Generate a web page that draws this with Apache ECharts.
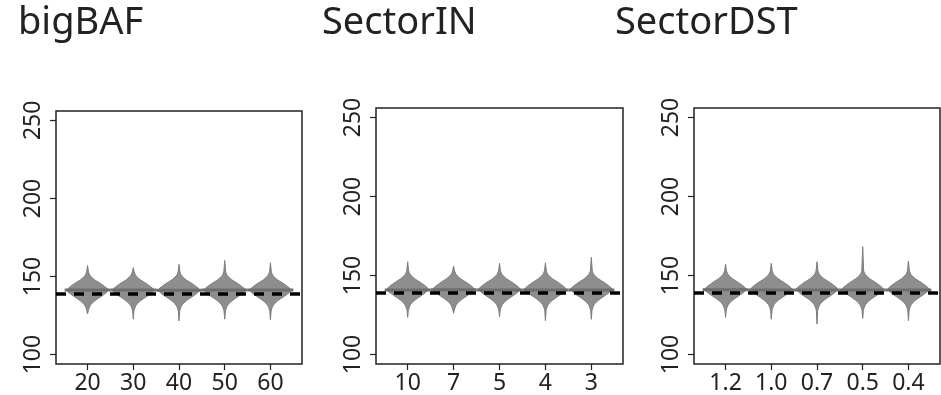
<!DOCTYPE html>
<html>
<head>
<meta charset="utf-8">
<script src="https://cdn.jsdelivr.net/npm/echarts@6/dist/echarts.min.js"></script>
<style>
  html, body { margin: 0; padding: 0; background: #fff; }
  #chart { width: 941px; height: 395px; }
</style>
</head>
<body>
<div id="chart"></div>
<script>
// panel titles and x tick labels
const panelTitles = ['bigBAF', 'SectorIN', 'SectorDST']
const tickLabels = [
  ['20', '30', '40', '50', '60'],
  ['10', '7', '5', '4', '3'],
  ['1.2', '1.0', '0.7', '0.5', '0.4']
]
const yTicks = [100, 150, 200, 250]

// violin tips (upper / lower end of each violin)
const topTips = [
  [157.0, 155.7, 157.8, 160.3, 158.8],
  [158.7, 156.0, 157.7, 158.1, 161.5],
  [157.1, 157.7, 158.7, 168.2, 159.2]
]
const bottomTips = [
  [126.0, 122.7, 121.6, 122.7, 122.3],
  [123.5, 126.1, 124.0, 121.4, 122.3],
  [123.5, 122.3, 119.3, 122.9, 121.4]
]
// gray solid line (mean of estimates) per violin
const meanValues = [
  [141.4, 141.4, 141.3, 141.4, 141.4],
  [140.9, 141.0, 140.9, 140.9, 140.9],
  [141.0, 140.9, 140.8, 140.8, 140.8]
]
// black dashed reference line
const trueValues = [139.3, 139.1, 139.1]

// shared violin body: level -> half width (x units)
const bodyLevels = [153, 151, 149.5, 148, 146.5, 145, 143.5, 142.3, 141.3, 140.3, 139, 137.5, 136, 134.5, 133, 131.5, 130, 128]
const bodyWidths = [0.02, 0.045, 0.09, 0.15, 0.23, 0.31, 0.38, 0.43, 0.45, 0.43, 0.38, 0.31, 0.23, 0.16, 0.1, 0.06, 0.035, 0.015]

// layout of the three plot boxes
const boxes = [
  { left: 56, top: 111, width: 246, height: 254 },
  { left: 376, top: 108, width: 247, height: 256 },
  { left: 694, top: 108, width: 246, height: 256 }
]
const titleLeft = [18, 322, 615]

const fontFamily = '"Noto Sans", "DejaVu Sans", sans-serif'

function renderViolin(params, api) {
  const c = api.value(0)
  const top = api.value(1)
  const bot = api.value(2)
  const right = [api.coord([c, top])]
  bodyLevels.forEach((lv, i) => {
    right.push(api.coord([c + bodyWidths[i], lv]))
  })
  right.push(api.coord([c, bot]))
  const left = []
  for (let i = bodyLevels.length - 1; i >= 0; i--) {
    left.push(api.coord([c - bodyWidths[i], bodyLevels[i]]))
  }
  return {
    type: 'polygon',
    shape: { points: right.concat(left) },
    style: { fill: '#8e8e8e', stroke: '#7d7d7d', lineWidth: 1 }
  }
}

function renderMean(params, api) {
  const c = api.value(0)
  const m = api.value(1)
  const p1 = api.coord([c - 0.5, m])
  const p2 = api.coord([c + 0.5, m])
  return {
    type: 'line',
    shape: { x1: p1[0], y1: p1[1], x2: p2[0], y2: p2[1] },
    style: { stroke: '#6e6e6e', lineWidth: 3 }
  }
}

const chart = echarts.init(document.getElementById('chart'), null, { renderer: 'canvas' })

const option = {
  animation: false,
  backgroundColor: '#fff',
  title: panelTitles.map((t, i) => ({
    text: t,
    left: titleLeft[i],
    top: 4,
    padding: 0,
    textStyle: { fontFamily, fontSize: 38, fontWeight: 'normal', color: '#222' }
  })),
  grid: boxes.map(b => ({
    left: b.left, top: b.top, width: b.width, height: b.height,
    show: true, borderColor: '#222', borderWidth: 1.5, backgroundColor: 'transparent'
  })),
  xAxis: boxes.map((b, i) => ({
    type: 'value',
    gridIndex: i,
    min: 0.31,
    max: 5.69,
    axisLine: { show: false },
    splitLine: { show: false },
    axisTick: {
      show: true, length: 6, customValues: [1, 2, 3, 4, 5],
      lineStyle: { color: '#222', width: 1.2 }
    },
    axisLabel: {
      customValues: [1, 2, 3, 4, 5],
      margin: 8,
      fontFamily, fontSize: 23, color: '#222',
      formatter: v => tickLabels[i][Math.round(v) - 1]
    }
  })),
  yAxis: boxes.map((b, i) => ({
    type: 'value',
    gridIndex: i,
    min: 94,
    max: 256,
    axisLine: { show: false },
    splitLine: { show: false },
    axisTick: {
      show: true, length: 6, customValues: yTicks,
      lineStyle: { color: '#222', width: 1.2 }
    },
    axisLabel: {
      customValues: yTicks,
      rotate: 90,
      margin: 11,
      fontFamily, fontSize: 23, color: '#222'
    }
  })),
  series: []
}

panelTitles.forEach((t, i) => {
  option.series.push({
    type: 'custom',
    name: t + ' violins',
    xAxisIndex: i,
    yAxisIndex: i,
    renderItem: renderViolin,
    data: topTips[i].map((v, k) => [k + 1, v, bottomTips[i][k]]),
    z: 2
  })
  option.series.push({
    type: 'custom',
    name: t + ' mean',
    xAxisIndex: i,
    yAxisIndex: i,
    renderItem: renderMean,
    data: meanValues[i].map((v, k) => [k + 1, v]),
    z: 3,
    markLine: {
      silent: true,
      symbol: 'none',
      label: { show: false },
      lineStyle: { color: '#000', width: 3.5, type: [10, 8] },
      data: [{ yAxis: trueValues[i] }]
    }
  })
})

chart.setOption(option)
</script>
</body>
</html>
